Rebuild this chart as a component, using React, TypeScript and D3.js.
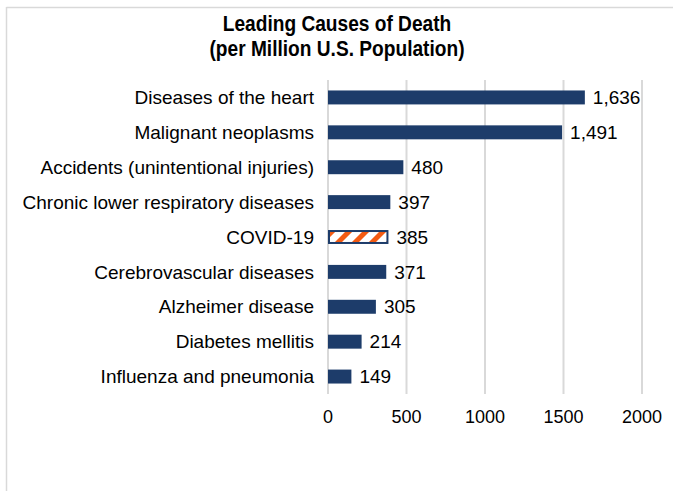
import React from "react";
import * as d3 from "d3";

const categories = [
  "Diseases of the heart",
  "Malignant neoplasms",
  "Accidents (unintentional injuries)",
  "Chronic lower respiratory diseases",
  "COVID-19",
  "Cerebrovascular diseases",
  "Alzheimer disease",
  "Diabetes mellitis",
  "Influenza and pneumonia",
];
const values = [1636, 1491, 480, 397, 385, 371, 305, 214, 149];
const highlighted = ["COVID-19"];
const xTicks = [0, 500, 1000, 1500, 2000];
const titleLines = ["Leading Causes of Death", "(per Million U.S. Population)"];

const W = 673;
const H = 491;
const NAVY = "#1d3c6a";
const ORANGE = "#f35b13";
const FONT = "'Liberation Sans', Arial, sans-serif";

export default function App() {
  const left = 328;
  const right = 642;
  const top = 80;
  const bottom = 394;
  const x = d3.scaleLinear().domain([0, 2000]).range([left, right]);
  const y = d3.scaleBand<string>().domain(categories).range([top, bottom]).paddingInner(0.6).paddingOuter(0.3);
  const fmt = d3.format(",");
  const cx = 337;

  return (
    <svg
      width={W}
      height={H}
      style={{ position: "absolute", left: 0, top: 0 }}
    >
      <defs>
        <pattern id="stripes" patternUnits="userSpaceOnUse" width="12" height="12" patternTransform="rotate(45)">
          <rect width="12" height="12" fill="white" />
          <rect x="0" y="0" width="5" height="12" fill={ORANGE} />
        </pattern>
      </defs>
      <rect x={0} y={0} width={W} height={H} fill="white" />
      <line x1={6.5} y1={7.5} x2={W} y2={7.5} stroke="#d9d9d9" strokeWidth={1.5} />
      <line x1={6.5} y1={7} x2={6.5} y2={H} stroke="#d9d9d9" strokeWidth={1.5} />
      <g transform={`translate(${cx},0) scale(0.87,1)`}>
        {titleLines.map((t, i) => (
          <text
            key={t}
            x={0}
            y={31 + i * 25}
            textAnchor="middle"
            fontFamily={FONT}
            fontWeight="bold"
            fontSize={22}
            fill="#000"
          >
            {t}
          </text>
        ))}
      </g>
      {xTicks.map((t) => (
        <g key={t}>
          <line x1={x(t)} x2={x(t)} y1={top} y2={bottom} stroke="#d9d9d9" strokeWidth={2} />
          <text x={x(t)} y={423} textAnchor="middle" fontFamily={FONT} fontSize={18} fill="#000">
            {t}
          </text>
        </g>
      ))}
      {categories.map((c, i) => {
        const yy = y(c)!;
        const bw = y.bandwidth();
        const hl = highlighted.includes(c);
        const cy = yy + bw / 2;
        return (
          <g key={c}>
            {hl ? (
              <rect
                x={x(0) + 1}
                y={yy + 1}
                width={x(values[i]) - x(0) - 2}
                height={bw - 2}
                fill="url(#stripes)"
                stroke={NAVY}
                strokeWidth={2}
              />
            ) : (
              <rect x={x(0)} y={yy} width={x(values[i]) - x(0)} height={bw} fill={NAVY} />
            )}
            <text
              x={x(0) - 14}
              y={cy}
              dy="0.35em"
              textAnchor="end"
              fontFamily={FONT}
              fontSize={19}
              fill="#000"
            >
              {c}
            </text>
            <text
              x={x(values[i]) + 8}
              y={cy}
              dy="0.35em"
              fontFamily={FONT}
              fontSize={19}
              fill="#000"
            >
              {fmt(values[i])}
            </text>
          </g>
        );
      })}
    </svg>
  );
}
